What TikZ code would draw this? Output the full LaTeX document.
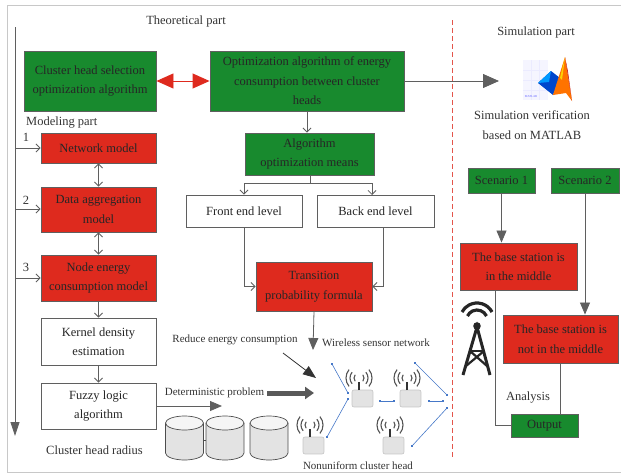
\documentclass[tikz,border=0pt]{standalone}
\usepackage{fontspec}
\setmainfont{Liberation Serif}
\usetikzlibrary{arrows.meta}

\definecolor{boxgreen}{RGB}{24,138,46}
\definecolor{boxred}{RGB}{222,42,30}
\definecolor{linegray}{RGB}{95,95,95}
\definecolor{framegray}{RGB}{200,200,200}
\definecolor{linkblue}{RGB}{70,120,200}

\tikzset{
  box/.style={draw=linegray, line width=0.9pt, align=center, inner sep=1pt,
              font=\fontsize{12.5}{19.5}\selectfont, text=black!85},
  gbox/.style={box, fill=boxgreen},
  rbox/.style={box, fill=boxred},
  wbox/.style={box, fill=white},
  lbl/.style={font=\fontsize{12.5}{19.5}\selectfont, text=black!80, inner sep=0pt, align=center},
  slbl/.style={font=\fontsize{11}{14}\selectfont, text=black!80, inner sep=0pt},
  garrow/.style={draw=linegray, line width=0.8pt, -{Straight Barb[length=4pt,width=8pt]}},
  gdarrow/.style={draw=linegray, line width=0.8pt,
                  {Straight Barb[length=4pt,width=8pt]}-{Straight Barb[length=4pt,width=8pt]}},
  barrow/.style={draw=linegray, line width=0.8pt, -{Triangle[length=12pt,width=10pt]}},
  bigarrow/.style={draw=linegray, line width=0.8pt, -{Triangle[length=16pt,width=14pt]}},
  redarrow/.style={draw=boxred, line width=0.9pt,
                   {Triangle[length=17pt,width=15pt]}-{Triangle[length=17pt,width=15pt]}},
  thinline/.style={draw=linegray, line width=0.8pt},
  link/.style={draw=linkblue, line width=0.6pt},
  linkend/.style={fill=linkblue},
  wave/.style={draw=gray!65!black, line width=1.1pt},
}

% wireless sensor node: box with left edge at x=#1, top edge at y=#2
\newcommand{\sensornode}[2]{%
  \fill[gray!22] (#1,#2) rectangle (#1+21,#2+17);
  \draw[gray!45, line width=0.6pt, rounded corners=2pt] (#1,#2) rectangle (#1+21,#2+17);
  \draw[black!80, line width=1.8pt] (#1+7,#2) -- (#1+7,#2-8);
  \foreach \r in {5,9,13}{
    \draw[wave] ([shift={(-40:\r pt)}]#1+7,#2-12) arc[start angle=-40, end angle=40, radius=\r pt];
    \draw[wave] ([shift={(140:\r pt)}]#1+7,#2-12) arc[start angle=140, end angle=220, radius=\r pt];
  }
}

% database cylinder centred at x=#1
\newcommand{\dbcyl}[1]{%
  \fill[gray!22] (#1-19,423) -- (#1-19,453) arc[start angle=180, end angle=360, x radius=19pt, y radius=7pt]
        -- (#1+19,423) -- cycle;
  \draw[gray!60!black, line width=0.7pt] (#1-19,423) -- (#1-19,453)
        arc[start angle=180, end angle=360, x radius=19pt, y radius=7pt] -- (#1+19,423);
  \draw[gray!60!black, line width=0.7pt, fill=gray!8] (#1,423) ellipse[x radius=19pt, y radius=7pt];
}

\begin{document}
\begin{tikzpicture}[x=1pt, y=-1pt]
\useasboundingbox (0,0) rectangle (621,474);

% outer frame
\draw[framegray, line width=1pt] (630,5) -- (7,5) -- (7,472) -- (630,472);

% section titles and the theory / simulation divider
\node[lbl] (theory) at (186,21) {Theoretical part};
\node[lbl] (simpart) at (536,32) {Simulation part};
\draw[boxred!80, line width=0.7pt, dash pattern=on 5pt off 3pt] (452,20) -- (452,458);

% top row
\node[gbox, minimum width=132, minimum height=60] (chs) at (90,81)
  {Cluster head selection\\optimization algorithm};
\node[gbox, minimum width=194, minimum height=60] (oae) at (307,81)
  {Optimization algorithm of energy\\consumption between cluster\\heads};
\draw[redarrow] (chs.east) -- (oae.west);

% modelling column
\node[lbl, anchor=west] (modeling) at (26,123) {Modeling part};
\node[rbox, minimum width=115, minimum height=30] (nm) at (98.5,148) {Network model};
\node[rbox, minimum width=115, minimum height=45] (dam) at (98.5,209.5) {Data aggregation\\model};
\node[rbox, minimum width=115, minimum height=46] (necm) at (98.5,278) {Node energy\\consumption model};
\node[wbox, minimum width=115, minimum height=47] (kde) at (98.5,341.5) {Kernel density\\estimation};
\node[wbox, minimum width=115, minimum height=46] (fla) at (98.5,406) {Fuzzy logic\\algorithm};
\node[lbl] (chr) at (94.5,450) {Cluster head radius};

\coordinate (axtop) at (15,27);
\coordinate (axbot) at (15,436);
\draw[draw=linegray, line width=0.8pt, -{Triangle[length=14pt,width=9pt]}] (axtop) -- (axbot);
\draw[garrow] (axtop |- nm.west) -- (nm.west);
\draw[garrow] (axtop |- 0,209) -- (0,209 -| dam.west);
\draw[garrow] (axtop |- necm.west) -- (necm.west);
\node[lbl] (n1) at (26,137) {1};
\node[lbl] (n2) at (26,200) {2};
\node[lbl] (n3) at (26,267) {3};

\draw[gdarrow] (nm.south) -- (dam.north);
\draw[gdarrow] (dam.south) -- (necm.north);
\draw[garrow] (necm.south) -- (kde.north);
\draw[garrow] (kde.south) -- (fla.north);

% optimisation column
\node[gbox, minimum width=129, minimum height=42] (aom) at (309.5,154) {Algorithm\\optimization means};
\node[wbox, minimum width=116, minimum height=32] (fel) at (244,211) {Front end level};
\node[wbox, minimum width=117, minimum height=32] (bel) at (375.5,211) {Back end level};
\node[rbox, minimum width=116, minimum height=49] (tpf) at (314,286.5) {Transition\\probability formula};

\draw[garrow] (oae.south) -- (oae.south |- aom.north);
\coordinate (split) at (310,183);
\draw[thinline] (310,175) -- (split);
\draw[garrow] (split) -| (fel.north);
\draw[garrow] (split) -| (372,195);
\draw[garrow] (fel.south) |- (tpf.west);
\draw[garrow] (383,227) |- (tpf.east);

\coordinate (wsn) at (313,350);
\draw[barrow] (tpf.south) -- (wsn);
\node[slbl, anchor=west] (wsnlbl) at (322,343) {Wireless sensor network};
\node[slbl] (rec) at (235,340) {Reduce energy consumption};
\coordinate (recA) at (283,353);
\coordinate (recB) at (316,378);
\draw[draw=black!80, line width=0.8pt, -{Triangle[length=13pt,width=10pt]}] (recA) -- (recB);
\node[slbl] (det) at (214.5,393) {Deterministic problem};
\coordinate (detA) at (267,393);
\coordinate (detB) at (314,393);
\draw[draw=black!65, line width=5pt, -{Triangle[length=9pt,width=12pt]}] (detA) -- (detB);
\coordinate (flaend) at (222,406);
\draw[barrow] (fla.east) -- (flaend);

% data stores
\draw[gray!60!black, line width=0.7pt] (203,440) -- (206,440);
\dbcyl{184.5}
\dbcyl{225}
\dbcyl{269}

% sensor network
\draw[link] (332,364) -- (348,393);
\draw[link] (348,399) -- (327,437);
\draw[link] (380,401) -- (394,401);
\draw[link] (429,401) -- (443,401);
\draw[link] (415,363) -- (447,395);
\draw[link] (447,408) -- (412,446);
\foreach \p in {(332,364),(348,393),(348,399),(327,437),(380,401),(394,401),
                (429,401),(443,401),(415,363),(447,395),(447,408),(412,446)}
  \fill[linkend] \p +(-1.3,-1.3) rectangle +(1.3,1.3);
\sensornode{352}{390}
\sensornode{400}{390}
\sensornode{303}{437}
\sensornode{383}{437}
\node[slbl] (nuch) at (358,466) {Nonuniform cluster head};

% simulation part
\coordinate (simend) at (499,81);
\draw[bigarrow] (oae.east) -- (simend);

% MATLAB emblem
\fill[blue!4] (523,60) rectangle (548,100);
\draw[blue!8, line width=0.4pt] (523,70) -- (548,70) (523,80) -- (548,80) (523,90) -- (548,90)
  (531,60) -- (531,100) (539,60) -- (539,100);
\node[font=\fontsize{3}{3}\selectfont, text=blue!60, inner sep=0pt] (mlab) at (531,97) {MATLAB};
\fill[blue!65!cyan!80!black] (538,83) -- (551,71) -- (560,78) -- (553,95) -- cycle;
\fill[blue!40!cyan] (538,83) -- (551,71) -- (549,82) -- cycle;
\fill[orange!90!red] (553,95) -- (565,57) -- (572,101) -- (566,93) -- cycle;
\fill[red!75!black] (565,57) -- (572,101) -- (568,72) -- cycle;
\fill[yellow!70!orange] (560,78) -- (565,57) -- (562,80) -- cycle;

\node[lbl] (simver) at (532,125) {Simulation verification\\based on MATLAB};

\node[gbox, minimum width=67, minimum height=25] (sc1) at (501.5,180.5) {Scenario 1};
\node[gbox, minimum width=68, minimum height=25] (sc2) at (585,180.5) {Scenario 2};
\node[rbox, minimum width=117, minimum height=47] (bsm) at (518.5,266.5) {The base station is\\in the middle};
\node[rbox, minimum width=115, minimum height=48] (bsn) at (560.5,339) {The base station is\\not in the middle};
\node[gbox, minimum width=67, minimum height=23] (out) at (544.5,425.5) {Output};
\node[lbl] (ana) at (528,398) {Analysis};

\draw[barrow] (sc1.south) -- (sc1.south |- bsm.north);
\draw[barrow] (sc2.south) -- (sc2.south |- bsn.north);
\draw[thinline] (495,290) |- (out.west);
\draw[thinline] (bsn.south) -- (bsn.south |- out.north);

% radio tower
\draw[black!85, line width=3.2pt] ([shift={(28:17pt)}]477,320) arc[start angle=28, end angle=152, radius=17pt];
\draw[black!85, line width=3.2pt] ([shift={(25:10.5pt)}]477,320.5) arc[start angle=25, end angle=155, radius=10.5pt];
\fill[black!85] (477,326) circle[radius=3.8pt];
\draw[black!85, line width=3pt, line join=miter] (463,375) -- (477,327) -- (490,375);
\draw[black!85, line width=2.6pt] (470,351) -- (484,351);
\draw[black!85, line width=2.2pt] (470,351) -- (487,366) (484,351) -- (466,366);
\end{tikzpicture}
\end{document}
